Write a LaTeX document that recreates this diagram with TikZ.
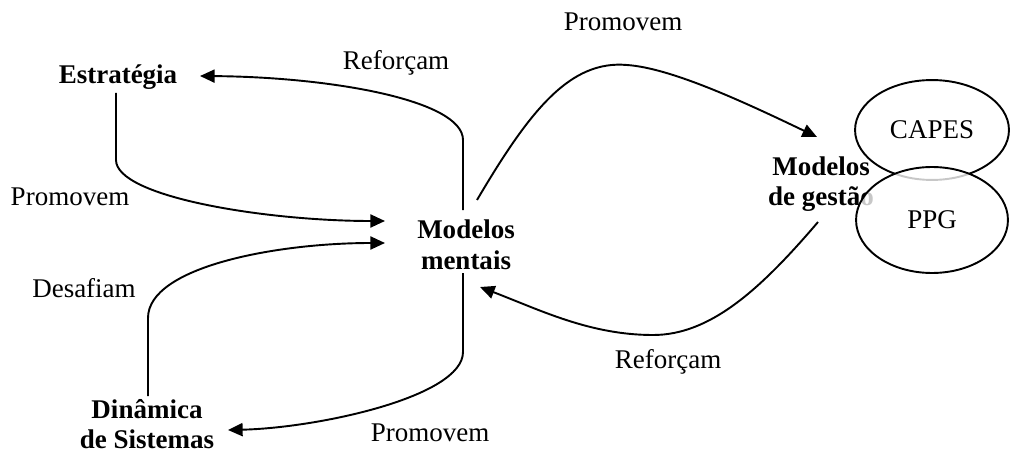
\documentclass[tikz,border=0pt]{standalone}
\usepackage{fontspec}
\setmainfont{Liberation Serif}
\usetikzlibrary{arrows.meta,calc,shapes.geometric}

\begin{document}
\begin{tikzpicture}[x=0.4444pt,y=-0.4444pt,
  txt/.style={inner sep=0pt,align=center,font=\fontsize{12}{13.6}\selectfont},
  concept/.style={txt,font=\fontsize{12}{13.6}\selectfont\bfseries},
  link/.style={line width=0.85pt,-{Triangle[length=6.5pt,width=5.8pt]}},
  oval/.style={ellipse,draw,line width=0.85pt,inner sep=0pt,
    font=\fontsize{12}{13.6}\selectfont}]
\useasboundingbox (0,0) rectangle (1010,454);

% concepts
\node[concept] (est) at (118,77) {Estratégia};
\node[concept] (mm)  at (466,245) {Modelos\\mentais};
\node[concept] (mg)  at (821,184) {Modelos\\de gestão};
\node[concept] (ds)  at (147,424) {Dinâmica\\de Sistemas};

% the two actors overlapping the management models
\node[oval,minimum width=68.4pt,minimum height=44.4pt] (capes) at (932,130) {CAPES};
\node[oval,minimum width=67.5pt,minimum height=47.1pt,
      fill=white,fill opacity=0.78,text opacity=1] (ppg) at (932,220) {PPG};

% link labels
\node[txt] (l1) at (623,22)  {Promovem};
\node[txt] (l2) at (396,63)  {Reforçam};
\node[txt] (l3) at (70,197)  {Promovem};
\node[txt] (l4) at (84,288)  {Desafiam};
\node[txt] (l5) at (430,433) {Promovem};
\node[txt] (l6) at (668,362) {Reforçam};

% mental models reinforce strategy
\draw[link] ($(mm)+(-3,-35)$) -- ($(mm)+(-3,-105)$)
  .. controls ($(mm)+(-3,-145)$) and ($(est)+(212,0)$) .. ($(est)+(82,-1)$);
% strategy promotes mental models
\draw[link] ($(est)+(-2,16)$) -- ($(est)+(-2,83)$)
  .. controls ($(est)+(-2,120)$) and ($(mm)+(-200,-24)$) .. ($(mm)+(-81,-24)$);
% system dynamics challenges mental models
\draw[link] ($(ds)+(1,-28)$) -- ($(ds)+(1,-106)$)
  .. controls ($(ds)+(1,-157)$) and ($(mm)+(-190,-2)$) .. ($(mm)+(-81,-2)$);
% mental models promote system dynamics
\draw[link] ($(mm)+(-3,28)$) -- ($(mm)+(-3,107)$)
  .. controls ($(mm)+(-3,152)$) and ($(ds)+(170,4)$) .. ($(ds)+(81,6)$);
% mental models promote management models
\draw[link] ($(mm)+(11,-45)$)
  .. controls ($(mm)+(64,-135)$) and ($(mm)+(104,-185)$) .. ($(mm)+(161,-180)$)
  .. controls ($(mm)+(204,-177)$) and ($(mg)+(-81,-84)$) .. ($(mg)+(-4,-47)$);
% management models reinforce mental models
\draw[link] ($(mg)+(-3,38)$)
  .. controls ($(mg)+(-61,106)$) and ($(mg)+(-111,151)$) .. ($(mg)+(-168,151)$)
  .. controls ($(mg)+(-231,151)$) and ($(mm)+(74,65)$) .. ($(mm)+(14,42)$);
\end{tikzpicture}
\end{document}
